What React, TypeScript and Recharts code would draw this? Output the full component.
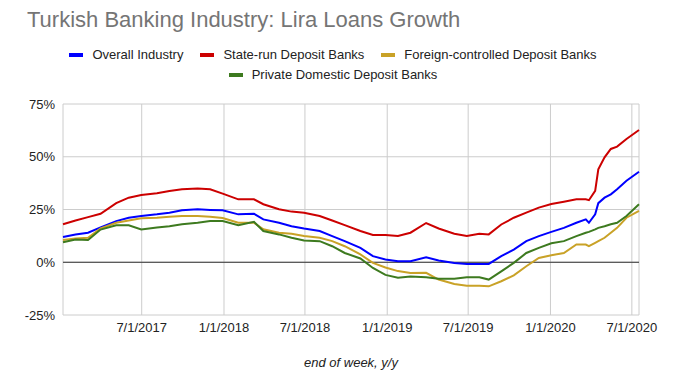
import React from "react";
import { CartesianGrid, Line, LineChart, ReferenceLine, XAxis, YAxis } from "recharts";

// end-of-week dates (sampled) and y/y lira loan growth, %
const weeks = [
  "2017-01-06", "2017-02-03", "2017-03-03", "2017-03-31", "2017-05-05", "2017-06-02",
  "2017-06-30", "2017-08-04", "2017-09-01", "2017-09-29", "2017-11-03", "2017-12-01",
  "2017-12-29", "2018-02-02", "2018-03-09", "2018-03-30", "2018-05-04", "2018-06-01",
  "2018-06-29", "2018-08-03", "2018-08-31", "2018-09-28", "2018-11-02", "2018-11-30",
  "2018-12-28", "2019-01-25", "2019-02-22", "2019-03-29", "2019-04-26", "2019-05-31",
  "2019-06-28", "2019-07-26", "2019-08-16", "2019-09-13", "2019-10-11", "2019-11-08",
  "2019-12-06", "2020-01-03", "2020-01-31", "2020-02-28", "2020-03-20", "2020-03-27",
  "2020-04-10", "2020-04-17", "2020-05-01", "2020-05-15", "2020-05-29", "2020-06-19",
  "2020-07-17",
];

const overall = [
  12, 13.2, 14, 16.5, 19.5, 21.1, 21.9, 22.7, 23.5, 24.6, 25.1, 24.8,
  24.6, 22.7, 23, 20.3, 18.7, 17.1, 16, 14.8, 12.4, 10, 6.8, 2.9,
  1.3, 0.5, 0.5, 2.4, 0.8, -0.3, -0.8, -0.8, -0.8, 2.9, 6, 10,
  12.4, 14.4, 16.3, 18.7, 20.3, 18.7, 22.7, 28, 30.6, 32.2, 34.6, 38.6,
  42.9,
];

const stateRun = [
  18, 19.8, 21.4, 23, 28, 30.6, 31.9, 32.7, 33.8, 34.6, 34.9, 34.6,
  32.5, 29.8, 29.8, 27.5, 25.1, 24, 23.5, 21.9, 19.8, 17.6, 14.8, 12.9,
  12.9, 12.4, 14, 18.6, 16, 13.5, 12.4, 13.5, 13.2, 17.9, 21.1, 23.5,
  25.9, 27.6, 28.7, 29.8, 29.8, 29.4, 33.8, 44, 49.7, 53.7, 54.8, 58.4,
  62.7,
];

const foreign = [
  10.5, 11.3, 11.6, 16, 18.7, 19.8, 20.8, 21.1, 21.6, 21.9, 21.9, 21.6,
  21, 18.7, 18.7, 15.6, 14, 13.5, 12.4, 11.6, 10, 7.6, 3.7, -0.3,
  -2.5, -4.2, -5.1, -5, -8.2, -10.3, -11.1, -11.1, -11.4, -9, -6.2, -1.9,
  2, 3.3, 4.4, 8.4, 8.4, 7.6, 9.2, 10, 11.6, 14, 16.3, 21.1,
  24.3,
];

const privateDomestic = [
  9.5, 10.8, 10.5, 15.5, 17.5, 17.5, 15.5, 16.5, 17.1, 18, 18.7, 19.5,
  19.5, 17.6, 19.2, 14.8, 13.2, 11.6, 10.3, 10, 7.6, 4.4, 1.8, -2.7,
  -6, -7.3, -6.7, -7.1, -7.8, -7.8, -7.1, -7.1, -8.2, -4.3, -0.3, 4.4,
  6.8, 9, 10, 12.4, 14, 14.4, 15.6, 16.3, 17.1, 18, 18.7, 21.9,
  27.5,
];

const tickDates = ["2017-07-01", "2018-01-01", "2018-07-01", "2019-01-01", "2019-07-01", "2020-01-01", "2020-07-01"];
const yTicks = [-25, 0, 25, 50, 75];

const series = [
  { key: "overall", name: "Overall Industry", color: "#0000ff" },
  { key: "stateRun", name: "State-run Deposit Banks", color: "#cc0000" },
  { key: "foreign", name: "Foreign-controlled Deposit Banks", color: "#c9a227" },
  { key: "privateDomestic", name: "Private Domestic Deposit Banks", color: "#3d7a1f" },
];

const toTime = (s: string) => {
  const [y, m, d] = s.split("-").map(Number);
  return Date.UTC(y, m - 1, d);
};

const data = weeks.map((w, i) => ({
  t: toTime(w),
  overall: overall[i],
  stateRun: stateRun[i],
  foreign: foreign[i],
  privateDomestic: privateDomestic[i],
}));

const fmtDate = (v: number) => {
  const d = new Date(v);
  return `${d.getUTCMonth() + 1}/${d.getUTCDate()}/${d.getUTCFullYear()}`;
};

function LegendItem({ name, color }: { name: string; color: string }) {
  return (
    <span style={{ display: "inline-flex", alignItems: "center", margin: "0 8.5px" }}>
      <span style={{ display: "inline-block", width: 14, height: 4, background: color, marginRight: 9 }} />
      {name}
    </span>
  );
}

export default function App() {
  return (
    <div
      style={{
        position: "relative",
        width: 677,
        height: 389,
        margin: -8,
        background: "#fff",
        fontFamily: "'Liberation Sans', Arial, sans-serif",
      }}
    >
      <div style={{ position: "absolute", left: 27, top: 7, fontSize: 22, color: "#757575", whiteSpace: "nowrap" }}>
        Turkish Banking Industry: Lira Loans Growth
      </div>
      <div style={{ position: "absolute", left: 0, top: 45, width: 666, fontSize: 13, color: "#222", lineHeight: "20px" }}>
        <div style={{ display: "flex", justifyContent: "center" }}>
          {series.slice(0, 3).map((s) => (
            <LegendItem key={s.key} name={s.name} color={s.color} />
          ))}
        </div>
        <div style={{ display: "flex", justifyContent: "center" }}>
          <LegendItem name={series[3].name} color={series[3].color} />
        </div>
      </div>

      <LineChart width={677} height={389} data={data} margin={{ top: 104, right: 38, bottom: 44, left: 0 }}>
        <CartesianGrid stroke="#cccccc" />
        <XAxis
          dataKey="t"
          type="number"
          scale="time"
          domain={[toTime("2017-01-06"), toTime("2020-07-17")]}
          ticks={tickDates.map(toTime)}
          tickFormatter={fmtDate}
          axisLine={false}
          tickLine={false}
          height={30}
          tick={{ fontSize: 13, fill: "#222" }}
        />
        <YAxis
          domain={[-25, 75]}
          ticks={yTicks}
          tickFormatter={(v: number) => `${v}%`}
          axisLine={false}
          tickLine={false}
          width={63}
          tick={{ fontSize: 13, fill: "#222" }}
        />
        <ReferenceLine y={0} stroke="#333333" />
        {series.map((s) => (
          <Line
            key={s.key}
            type="linear"
            dataKey={s.key}
            name={s.name}
            stroke={s.color}
            strokeWidth={2}
            dot={false}
            isAnimationActive={false}
          />
        ))}
      </LineChart>

      <div
        style={{
          position: "absolute",
          left: 63,
          width: 576,
          top: 355,
          textAlign: "center",
          fontSize: 13,
          fontStyle: "italic",
          color: "#222",
        }}
      >
        end of week, y/y
      </div>
    </div>
  );
}
